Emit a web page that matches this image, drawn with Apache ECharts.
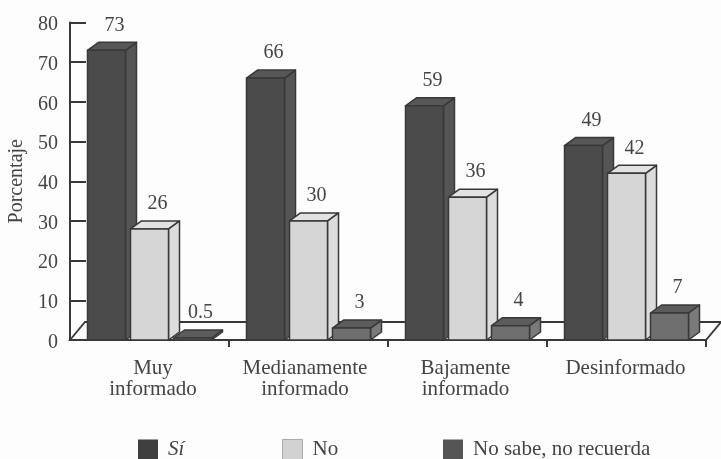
<!DOCTYPE html>
<html><head><meta charset="utf-8">
<style>html,body{margin:0;padding:0;background:#fdfdfd}#c{width:721px;height:459px}</style>
<script src="https://cdn.jsdelivr.net/npm/echarts@6/dist/echarts.min.js"></script>
</head><body><div id="c"></div>
<script>
const categories = ['Muy\ninformado', 'Medianamente\ninformado', 'Bajamente\ninformado', 'Desinformado'];
// printed values
const siLabels = ['73', '66', '59', '49'];
const noLabels = ['26', '30', '36', '42'];
const noSabeLabels = ['0.5', '3', '4', '7'];
// bar heights
const si = [73, 66, 59, 49];
const no = [28, 30, 36, 42];
const noSabe = [0.5, 3, 3.6, 6.8];
const yTicks = [0, 10, 20, 30, 40, 50, 60, 70, 80];

const FONT = '"Liberation Serif", serif';
const INK = '#444';
const EDGE = '#383838';
const DX = 11, DY = 8, BAR = 38, PITCH = 43;

function bar3d(offset, labels, front, side, top) {
  return function (params, api) {
    const i = api.value(0), v = api.value(1);
    const base = api.coord([i, 0]);
    const tip = api.coord([i, v]);
    const x0 = base[0] + offset - BAR / 2, x1 = x0 + BAR;
    const yB = base[1], yT = tip[1];
    const st = {stroke: EDGE, lineWidth: 1.5, lineJoin: 'round'};
    return {
      type: 'group',
      children: [
        {type: 'polygon', shape: {points: [[x1, yB], [x1 + DX, yB - DY], [x1 + DX, yT - DY], [x1, yT]]}, style: {fill: side, ...st}},
        {type: 'polygon', shape: {points: [[x0, yT], [x1, yT], [x1 + DX, yT - DY], [x0 + DX, yT - DY]]}, style: {fill: top, ...st}},
        {type: 'rect', shape: {x: x0, y: yT, width: BAR, height: yB - yT}, style: {fill: front, ...st}},
        {type: 'text', x: x0 + 27, y: yT - 25, style: {text: labels[params.dataIndex], fill: INK, font: '20px ' + FONT, textAlign: 'center', textVerticalAlign: 'middle'}}
      ]
    };
  };
}

function floor(params) {
  const c = params.coordSys;
  const L = c.x, R = c.x + c.width, B = c.y + c.height;
  return {
    type: 'polygon',
    shape: {points: [[L, B], [R, B], [R + 15, B - 18], [L + 15, B - 18]]},
    style: {fill: '#fdfdfd', stroke: EDGE, lineWidth: 1.8}
  };
}

function series(name, data, labels, offset, front, side, top) {
  return {
    name, type: 'custom', z: 3, coordinateSystem: 'cartesian2d', clip: false,
    data: data.map((v, i) => [i, v]),
    itemStyle: {color: front},
    encode: {x: 0, y: 1},
    renderItem: bar3d(offset, labels, front, side, top)
  };
}

const chart = echarts.init(document.getElementById('c'), null, {renderer: 'canvas'});
const legendBase = {
  top: 439, padding: 0, itemWidth: 20, itemHeight: 20, icon: 'rect', orient: 'horizontal',
  textStyle: {fontFamily: FONT, fontSize: 21, color: INK, padding: [0, 0, 0, 5]}
};
const labelKeys = ['a', 'b', 'c', 'd'];
chart.setOption({
  animation: false,
  backgroundColor: '#fdfdfd',
  textStyle: {fontFamily: FONT},
  grid: {left: 70, top: 22.5, width: 636, height: 317.5, containLabel: false, outerBoundsMode: 'none'},
  legend: [
    {...legendBase, left: 138, data: [{name: 'Sí', itemStyle: {color: '#3f3f3f'}}], textStyle: {...legendBase.textStyle, fontStyle: 'italic'}},
    {...legendBase, left: 282, data: [{name: 'No', itemStyle: {color: '#d2d2d2', borderColor: '#aaaaaa', borderWidth: 1}}]},
    {...legendBase, left: 443, data: [{name: 'No sabe, no recuerda', itemStyle: {color: '#555555'}}]}
  ],
  xAxis: {
    type: 'category', data: categories, boundaryGap: true,
    axisLine: {lineStyle: {color: EDGE, width: 2}},
    axisTick: {show: true, length: 7, inside: false, lineStyle: {color: EDGE, width: 2}, interval: i => i > 0},
    axisLabel: {
      color: INK, fontFamily: FONT, fontSize: 21, lineHeight: 21, margin: 18, interval: 0,
      formatter: (v, i) => v.split('\n').map(s => '{' + labelKeys[i] + '|' + s + '}').join('\n'),
      rich: {
        a: {padding: [0, 0, 0, 7], fontSize: 21, lineHeight: 21, fontFamily: FONT, color: INK},
        b: {padding: [0, 7, 0, 0], fontSize: 21, lineHeight: 21, fontFamily: FONT, color: INK},
        c: {padding: [0, 4, 0, 0], fontSize: 21, lineHeight: 21, fontFamily: FONT, color: INK},
        d: {padding: [0, 2, 0, 0], fontSize: 21, lineHeight: 21, fontFamily: FONT, color: INK}
      }
    }
  },
  yAxis: {
    type: 'value', min: yTicks[0], max: yTicks[yTicks.length - 1], interval: 10,
    name: 'Porcentaje', nameLocation: 'middle', nameGap: 41, nameRotate: 90,
    nameTextStyle: {color: INK, fontFamily: FONT, fontSize: 20},
    axisLine: {show: true, lineStyle: {color: EDGE, width: 2}},
    axisTick: {show: true, inside: true, length: 16, lineStyle: {color: EDGE, width: 2}},
    axisLabel: {
      color: INK, fontFamily: FONT, fontSize: 20, margin: 12,
      formatter: '{v|{value}}',
      rich: {v: {padding: [5, 0, 0, 0], fontSize: 20, fontFamily: FONT, color: INK}}
    },
    splitLine: {show: false}
  },
  series: [
    {type: 'custom', z: 1, silent: true, coordinateSystem: 'cartesian2d', clip: false, data: [[0, 0]], renderItem: floor},
    series('Sí', si, siLabels, -PITCH, '#4b4b4b', '#555555', '#575757'),
    series('No', no, noLabels, 0, '#d6d6d6', '#dcdcdc', '#e2e2e2'),
    series('No sabe, no recuerda', noSabe, noSabeLabels, PITCH, '#6f6f6f', '#7a7a7a', '#5c5c5c')
  ]
});
</script></body></html>
